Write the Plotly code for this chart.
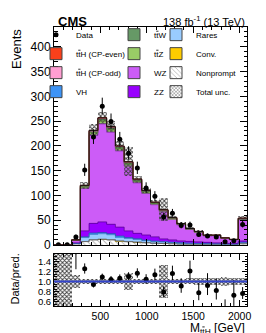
import numpy as np
import plotly.graph_objects as go

# ---------------- data ----------------
x_lo, x_hi, n_bins = 0.0, 2080.0, 22
edges = np.linspace(x_lo, x_hi, n_bins + 1)
centers = 0.5 * (edges[:-1] + edges[1:])
bin_w = edges[1] - edges[0]

data_counts = [0, 0, 16, 151, 218, 280, 249, 213, 185, 155, 115, 98, 56, 64, 39, 40, 21, 18, 16, 6, 8, 41]

nonprompt = [0, 0, 2, 6.5, 10, 11, 10, 7.5, 6.3, 5.2, 4.2, 3.2, 2.6, 2, 1.5, 1.2, 1, 0.8, 0.7, 0.6, 0.5, 2]
conv      = [0, 0, 0, 0.2, 0.3, 0.3, 0.3, 0.2, 0.2, 0.2, 0.1, 0.1, 0.1, 0.1, 0.1, 0.1, 0.1, 0.1, 0.1, 0.1, 0.1, 0.2]
rares     = [0, 0, 0.5, 8, 11, 11, 10, 8, 6.5, 5.5, 4, 3.5, 3, 2.5, 2, 1.7, 1.4, 1.2, 1, 0.9, 0.8, 2.5]
vh        = [0, 0, 0.1, 1.5, 2.5, 2.5, 2.2, 2, 1.6, 1.3, 1, 0.8, 0.7, 0.6, 0.5, 0.4, 0.3, 0.3, 0.2, 0.2, 0.2, 0.6]
zz        = [0, 0, 1.4, 12, 19.5, 21.5, 19, 18, 13.5, 11, 10.5, 8.5, 5.5, 4.7, 3.8, 3.6, 3.2, 2.6, 2, 1.2, 1.4, 2.5]
wz        = [0, 0, 5, 86, 178, 198, 186, 154, 131, 102, 84, 65, 55, 42, 32.4, 24, 19.3, 13, 14.4, 10, 7.1, 42.8]
ttz       = [0, 0, 0.5, 3, 5, 6, 5, 5, 4, 3.5, 3, 2.5, 2, 1.5, 1.2, 1, 0.8, 0.7, 0.6, 0.5, 0.4, 1.5]
ttw       = [0, 0, 0.3, 2, 3, 4, 4, 3, 3, 2.5, 2, 1.5, 1.2, 1, 0.8, 0.6, 0.5, 0.4, 0.3, 0.3, 0.3, 1]
tth_odd   = [0, 0, 0.1, 0.4, 0.8, 1, 1, 0.9, 0.8, 0.7, 0.6, 0.5, 0.4, 0.3, 0.3, 0.2, 0.2, 0.2, 0.1, 0.1, 0.1, 0.4]
tth_even  = [0, 0, 0.1, 0.5, 1, 1.2, 1.2, 1, 0.9, 0.8, 0.6, 0.5, 0.4, 0.3, 0.3, 0.2, 0.2, 0.2, 0.1, 0.1, 0.1, 0.4]

total_unc = [0, 0, 1.3, 7, 12, 12, 11, 10, 29, 7, 5, 4, 23, 3, 2.5, 2, 2, 1.5, 1.5, 1.2, 0.8, 4]

x_ticks = [500, 1000, 1500, 2000]

# ---------------- style ----------------
FONT = "Liberation Sans, Arial, sans-serif"
TT = 't<span style="text-decoration:overline">t</span>'
KEY_LINE = dict(width=1, color="#444444")
NP_PATTERN = dict(shape="\\", fgcolor="#666666", bgcolor="#ffffff", size=4,
                  solidity=0.25, fillmode="overlay")
UNC_PATTERN = dict(shape="x", fgcolor="#3a3a3a", size=3, solidity=0.5, fillmode="replace")

# (name, values, fill, edge, legend, rank)
components = [
    ("Nonprompt", nonprompt, "#ffffff", "#666666", "legend3", 3),
    ("Conv.", conv, "#ffcc00", "#666666", "legend3", 2),
    ("Rares", rares, "#99ccff", "#5a8fc7", "legend3", 1),
    ("VH", vh, "#3d94f6", "#1f5fae", "legend", 4),
    ("ZZ", zz, "#9900ff", "#5c0099", "legend2", 4),
    ("WZ", wz, "#cc5cf7", "#7a2f9c", "legend2", 3),
    (TT + "Z", ttz, "#99cc66", "#5f8a36", "legend2", 2),
    (TT + "W", ttw, "#669966", "#3b5f3b", "legend2", 1),
    (TT + "H (CP-odd)", tth_odd, "#ff9ed2", "#c0608f", "legend", 3),
    (TT + "H (CP-even)", tth_even, "#f9401b", "#a02408", "legend", 2),
]

fig = go.Figure()

# stacked components
base = np.zeros(n_bins)
for name, vals, fill, edge, leg, rank in components:
    vals = np.asarray(vals, dtype=float)
    marker = dict(color=fill, line=dict(width=0))
    if name == "Nonprompt":
        marker["pattern"] = NP_PATTERN
    fig.add_trace(go.Bar(x=centers, y=vals, base=base.copy(), width=bin_w,
                         marker=marker, name=name, showlegend=False,
                         xaxis="x", yaxis="y"))
    base = base + vals
total = base.copy()

# component boundary step lines
cum = np.zeros(n_bins)
for name, vals, fill, edge, leg, rank in components:
    cum = cum + np.asarray(vals, dtype=float)
    fig.add_trace(go.Scatter(x=edges, y=np.append(cum, cum[-1]), mode="lines",
                             line=dict(shape="hv", color=edge, width=0.8),
                             showlegend=False, hoverinfo="skip", xaxis="x", yaxis="y"))

# total uncertainty band (main)
unc = np.asarray(total_unc, dtype=float)
fig.add_trace(go.Bar(x=centers, y=2 * unc, base=total - unc, width=bin_w,
                     marker=dict(color="rgba(0,0,0,0)", line=dict(width=0), pattern=UNC_PATTERN),
                     showlegend=False, hoverinfo="skip", xaxis="x", yaxis="y"))

# total outline
fig.add_trace(go.Scatter(x=edges, y=np.append(total, total[-1]), mode="lines",
                         line=dict(shape="hv", color="#111111", width=1),
                         showlegend=False, hoverinfo="skip", xaxis="x", yaxis="y"))

# data points
d = np.asarray(data_counts, dtype=float)
err_hi = np.where(d > 0, np.sqrt(d + 0.25) + 0.5, 0.0)
err_lo = np.where(d > 0, np.sqrt(d + 0.25) - 0.5, 0.0)
fig.add_trace(go.Scatter(x=centers, y=d, mode="markers",
                         marker=dict(color="black", size=5),
                         error_y=dict(type="data", symmetric=False, array=err_hi,
                                      arrayminus=err_lo, color="black", thickness=1, width=0),
                         name="Data", legend="legend", legendrank=1,
                         xaxis="x", yaxis="y"))

# legend keys (proxies with outlined boxes, no drawn data)
for name, vals, fill, edge, leg, rank in components:
    marker = dict(color=fill, line=KEY_LINE)
    if name == "Nonprompt":
        marker["pattern"] = NP_PATTERN
    fig.add_trace(go.Bar(x=[None], y=[None], marker=marker, name=name, legend=leg,
                         legendrank=rank, showlegend=True, hoverinfo="skip",
                         xaxis="x", yaxis="y"))
fig.add_trace(go.Bar(x=[None], y=[None],
                     marker=dict(color="#ffffff", line=KEY_LINE,
                                 pattern=dict(shape="x", fgcolor="#3a3a3a", bgcolor="#ffffff",
                                              size=3, solidity=0.5, fillmode="overlay")),
                     name="Total unc.", legend="legend3", legendrank=4, showlegend=True,
                     hoverinfo="skip", xaxis="x", yaxis="y"))

# ---------------- ratio panel ----------------
r_lo, r_hi = 0.51, 1.55
with np.errstate(divide="ignore", invalid="ignore"):
    rel = np.where(total > 0, unc / total, np.nan)
    band_base = np.where(total > 0, 1 - rel, r_lo)
    band_h = np.where(total > 0, 2 * rel, r_hi - r_lo)
    ratio = np.where(total > 0, d / total, np.nan)
    r_hi_err = np.where(total > 0, err_hi / total, np.nan)
    r_lo_err = np.where(total > 0, err_lo / total, np.nan)

fig.add_trace(go.Bar(x=centers, y=band_h, base=band_base, width=bin_w,
                     marker=dict(color="rgba(0,0,0,0)", line=dict(width=0), pattern=UNC_PATTERN),
                     showlegend=False, hoverinfo="skip", xaxis="x2", yaxis="y2"))

fig.add_shape(type="line", xref="x2 domain", yref="y2", x0=0, x1=1, y0=1, y1=1,
              line=dict(color="#3344cc", width=2), layer="above")

fig.add_trace(go.Scatter(x=centers, y=ratio, mode="markers",
                         marker=dict(color="black", size=5),
                         error_y=dict(type="data", symmetric=False, array=r_hi_err,
                                      arrayminus=r_lo_err, color="black", thickness=1, width=0),
                         showlegend=False, xaxis="x2", yaxis="y2"))

# ---------------- layout ----------------
W, H = 266, 333
ml, mr, mt, mb = 46, 27, 13, 35
ph = H - mt - mb
pw = W - ml - mr

def py(px):  # paper y from pixel y
    return (H - mb - px) / ph

def pxx(px):  # paper x from pixel x
    return (px - ml) / pw

axis_common = dict(showline=True, linecolor="black", linewidth=1, mirror="allticks",
                   ticks="inside", showgrid=False, zeroline=False, tickcolor="black")

legend_common = dict(bgcolor="rgba(0,0,0,0)", borderwidth=0, xanchor="left", yanchor="top",
                     font=dict(family=FONT, size=8, color="black"), traceorder="normal",
                     tracegroupgap=0, itemclick=False)

LEG_TOP = 6

fig.update_layout(
    width=W, height=H,
    margin=dict(l=ml, r=mr, t=mt, b=mb, pad=0),
    paper_bgcolor="white", plot_bgcolor="white",
    barmode="overlay", bargap=0,
    font=dict(family=FONT, color="black"),
    xaxis=dict(domain=[0, 1], range=[x_lo, x_hi], anchor="y", matches="x2",
               showticklabels=False, tickvals=x_ticks, ticklen=6,
               minor=dict(ticks="inside", dtick=100, tick0=0, ticklen=3, tickcolor="black"),
               **axis_common),
    yaxis=dict(domain=[py(235.5), 1], range=[0, 440], anchor="x", dtick=50, tick0=0,
               ticklen=7, tickfont=dict(size=12),
               minor=dict(ticks="inside", dtick=10, tick0=0, ticklen=3.5, tickcolor="black"),
               **axis_common),
    xaxis2=dict(domain=[0, 1], range=[x_lo, x_hi], anchor="y2", tickvals=x_ticks,
                ticklen=6, tickfont=dict(size=10.5),
                minor=dict(ticks="inside", dtick=100, tick0=0, ticklen=3, tickcolor="black"),
                **axis_common),
    yaxis2=dict(domain=[0, py(245)], range=[r_lo, r_hi], anchor="x2",
                tickvals=[0.6, 0.8, 1.0, 1.2, 1.4], tickformat=".1f", ticklen=5,
                tickfont=dict(size=9.5),
                minor=dict(ticks="inside", dtick=0.05, tick0=0, ticklen=2.5, tickcolor="black"),
                **axis_common),
    legend=dict(x=pxx(28), y=py(LEG_TOP), **legend_common),
    legend2=dict(x=pxx(106), y=py(LEG_TOP), **legend_common),
    legend3=dict(x=pxx(148), y=py(LEG_TOP), **legend_common),
    annotations=[
        dict(text="<b>CMS</b>", xref="paper", yref="paper", x=pxx(48), y=py(7),
             xanchor="left", yanchor="middle", showarrow=False,
             font=dict(size=13, family=FONT)),
        dict(text="138 fb<sup>-1</sup> (13 TeV)", xref="paper", yref="paper", x=1, y=py(7),
             xanchor="right", yanchor="middle", showarrow=False,
             font=dict(size=11, family=FONT)),
        dict(text="Events", xref="paper", yref="paper", x=pxx(8), y=py(13),
             xanchor="center", yanchor="top", textangle=-90, showarrow=False,
             font=dict(size=13, family=FONT)),
        dict(text="Data/pred.", xref="paper", yref="paper", x=pxx(7), y=py(271),
             xanchor="center", yanchor="middle", textangle=-90, showarrow=False,
             font=dict(size=11, family=FONT)),
        dict(text="M<sub>" + TT + "H</sub> [GeV]", xref="paper", yref="paper", x=1,
             y=py(332), xanchor="right", yanchor="bottom", showarrow=False,
             font=dict(size=12, family=FONT)),
    ],
)

fig.write_html("out.html")
